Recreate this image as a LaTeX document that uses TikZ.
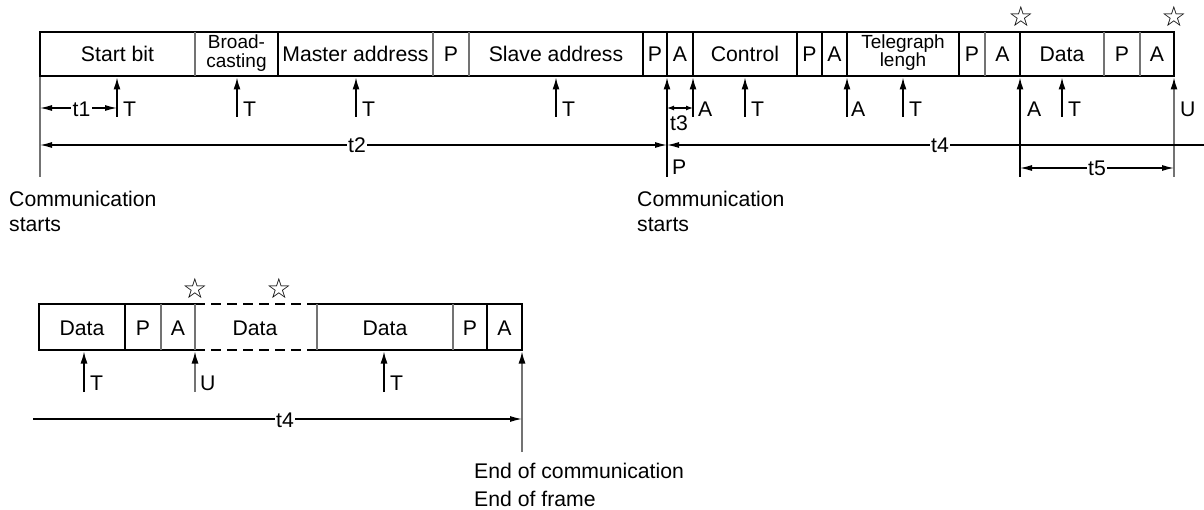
\documentclass[tikz,border=0pt]{standalone}
\usepackage{fontspec}
\setmainfont{Liberation Sans}
\newfontfamily\symfont{DejaVu Sans}
\usetikzlibrary{arrows.meta}
\begin{document}
\begin{tikzpicture}[x=1pt,y=-1pt,
  lbl/.style={font=\fontsize{21.2}{24}\selectfont, inner sep=0pt, anchor=base},
  lblw/.style={lbl, anchor=base west},
  small/.style={font=\fontsize{19}{19}\selectfont, inner sep=0pt, anchor=base},
  dimlbl/.style={lbl, fill=white, inner xsep=1.5pt, inner ysep=1pt},
  frame/.style={line width=2.8pt, line cap=rect},
  dframe/.style={line width=2.8pt, dash pattern=on 10pt off 6pt},
  div/.style={line width=1.3pt},
  gdiv/.style={line width=1.3pt, draw=black!55},
  arr/.style={line width=1.4pt, -{Latex[length=12pt,width=7pt]}},
  garr/.style={arr, draw=black!55, -{Latex[length=12pt,width=7pt,black]}},
  dim/.style={line width=1.2pt, {Latex[length=12pt,width=6pt]}-{Latex[length=12pt,width=6pt]}},
  sdim/.style={line width=1.2pt, {Latex[length=7pt,width=5pt]}-{Latex[length=7pt,width=5pt]}},
  ldim/.style={line width=1.2pt, {Latex[length=12pt,width=6pt]}-},
  rdim/.style={line width=1.2pt, -{Latex[length=12pt,width=6pt]}},
  starsym/.style={font=\symfont\fontsize{28}{28}\selectfont, inner sep=0pt}
]
\useasboundingbox (0,0) rectangle (1204,510);

% ---------------- top frame ----------------
\draw[frame] (40,32) rectangle (1174,76);
\foreach \x in {195,433,469,985,1104,1140} \draw[gdiv] (\x,32) -- (\x,76);
\foreach \x in {278,643,667,693,797,822,847,959,1020} \draw[div] (\x,32) -- (\x,76);

\node[lbl] (startbit) at (117.5,61.5) {Start bit};
\node[small] (broadA) at (236.5,49) {Broad-};
\node[small] (broadB) at (236.5,67.5) {casting};
\node[lbl] (master) at (355.5,61.5) {Master address};
\node[lbl] (p1) at (451,61.5) {P};
\node[lbl] (slave) at (556,61.5) {Slave address};
\node[lbl] (p2) at (655,61.5) {P};
\node[lbl] (a2) at (680,61.5) {A};
\node[lbl] (control) at (745,61.5) {Control};
\node[lbl] (p3) at (809.5,61.5) {P};
\node[lbl] (a3) at (834.5,61.5) {A};
\node[small] (telA) at (903,49) {Telegraph};
\node[small] (telB) at (903,67) {lengh};
\node[lbl] (p4) at (972,61.5) {P};
\node[lbl] (a4) at (1002.5,61.5) {A};
\node[lbl] (data1) at (1062,61.5) {Data};
\node[lbl] (p5) at (1122,61.5) {P};
\node[lbl] (a5) at (1157,61.5) {A};

\node[starsym] (star1) at (1021,16.5) {☆};
\node[starsym] (star2) at (1174,16.5) {☆};

% short up arrows with labels
\foreach \n/\x in {s1/117, s2/237, s3/356, s4/556, s5/745, s6/903, s7/1062, s8/693, s9/847} {
  \coordinate (lo\n) at (\x,117);
  \coordinate (hi\n) at (\x,77.5);
  \draw[arr] (lo\n) -- (hi\n);
}
\foreach \n/\x/\t in {s1/123/T, s2/243/T, s3/362/T, s4/562/T, s5/751/T, s6/909/T, s7/1068/T, s8/698/A, s9/851/A}
  \node[lblw] (lab\n) at (\x,117) {\t};

% long vertical lines
\coordinate (v1lo) at (40,177);   \coordinate (v1hi) at (40,77.5);
\coordinate (v2lo) at (667,177);  \coordinate (v2hi) at (667,77.5);
\coordinate (v3lo) at (1020,177); \coordinate (v3hi) at (1020,77.5);
\coordinate (v4lo) at (1174,177); \coordinate (v4hi) at (1174,77.5);
\draw[gdiv] (v1lo) -- (v1hi);
\draw[arr] (v2lo) -- (v2hi);
\draw[arr] (v3lo) -- (v3hi);
\draw[garr] (v4lo) -- (v4hi);
\node[lblw] (labA4) at (1027,117) {A};
\node[lblw] (labU1) at (1180,117) {U};
\node[lblw] (labP) at (672,175) {P};

% t1
\coordinate (t1a) at (40,108); \coordinate (t1b) at (117,108);
\draw[dim] (t1a) -- (t1b);
\node[dimlbl] (t1) at (81.5,116.5) {t1};
% t3
\coordinate (t3a) at (667,108); \coordinate (t3b) at (693,108);
\draw[sdim] (t3a) -- (t3b);
\node[lbl] (t3) at (679,131) {t3};
% t2
\coordinate (t2a) at (40,145); \coordinate (t2b) at (667,145);
\draw[dim] (t2a) -- (t2b);
\node[dimlbl] (t2) at (357,153) {t2};
% t4
\coordinate (t4a) at (667,145); \coordinate (t4b) at (1204,145);
\draw[ldim] (t4a) -- (t4b);
\node[dimlbl] (t4) at (940,153) {t4};
% t5
\coordinate (t5a) at (1020,168); \coordinate (t5b) at (1174,168);
\draw[dim] (t5a) -- (t5b);
\node[dimlbl] (t5) at (1097,176) {t5};

\node[lblw] (cs1a) at (9,207) {Communication};
\node[lblw] (cs1b) at (9,232) {starts};
\node[lblw] (cs2a) at (637,207) {Communication};
\node[lblw] (cs2b) at (637,232) {starts};

% ---------------- bottom frame ----------------
\draw[frame] (195,304) -- (39,304) -- (39,350) -- (195,350);
\draw[frame] (317,304) -- (522,304) -- (522,350) -- (317,350);
\draw[dframe] (195,304) -- (317,304);
\draw[dframe] (195,350) -- (317,350);
\foreach \x in {161,195,317,453} \draw[gdiv] (\x,304) -- (\x,350);
\foreach \x in {125,487} \draw[div] (\x,304) -- (\x,350);

\node[lbl] (bdata1) at (82,335) {Data};
\node[lbl] (bp1) at (143,335) {P};
\node[lbl] (ba1) at (178,335) {A};
\node[lbl] (bdata2) at (255,335) {Data};
\node[lbl] (bdata3) at (385,335) {Data};
\node[lbl] (bp2) at (470,335) {P};
\node[lbl] (ba2) at (504.5,335) {A};

\node[starsym] (star3) at (195,288.5) {☆};
\node[starsym] (star4) at (279,288.5) {☆};

\foreach \n/\x in {b1/84, b2/195, b3/384} {
  \coordinate (lo\n) at (\x,392);
  \coordinate (hi\n) at (\x,351.5);
}
\draw[arr] (lob1) -- (hib1);
\draw[garr] (lob2) -- (hib2);
\draw[arr] (lob3) -- (hib3);
\node[lblw] (blT1) at (90,390) {T};
\node[lblw] (blU) at (200,390) {U};
\node[lblw] (blT2) at (390,390) {T};

\coordinate (endlo) at (522,452); \coordinate (endhi) at (522,351.5);
\draw[garr] (endlo) -- (endhi);
\coordinate (bt4a) at (33,419); \coordinate (bt4b) at (522,419);
\draw[rdim] (bt4a) -- (bt4b);
\node[dimlbl] (bt4) at (285,427) {t4};

\node[lblw] (end1) at (474,478) {End of communication};
\node[lblw] (end2) at (474,506) {End of frame};
\end{tikzpicture}
\end{document}
